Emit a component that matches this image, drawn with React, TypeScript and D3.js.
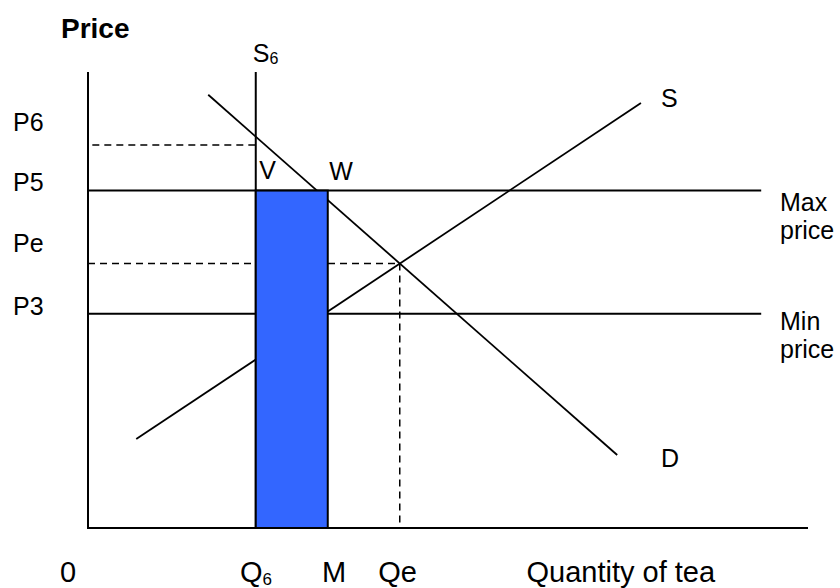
import React from 'react';
import * as d3 from 'd3';

// quantity / price in chart units (0-100 on both axes)
const demand: [number, number][] = [
  [16.7, 95],
  [73.5, 16],
];
const supply: [number, number][] = [
  [6.7, 19.5],
  [76.8, 93.2],
];

const q6 = 23.3;
const qM = 33.3;
const qe = 43.3;
const p6 = 84;
const p5 = 74;
const pe = 58;
const p3 = 47;
const priceLineEnd = 93.5;

const priceTicks = [
  { label: 'P6', value: p6, dy: -14 },
  { label: 'P5', value: p5, dy: 0 },
  { label: 'Pe', value: pe, dy: -12 },
  { label: 'P3', value: p3, dy: 1 },
];

const quantityTicks = [
  { label: '0', sub: '', value: -3.9 },
  { label: 'Q', sub: '6', value: q6 - 2.2 },
  { label: 'M', sub: '', value: qM - 0.8 },
  { label: 'Qe', sub: '', value: qe - 3 },
  { label: 'Quantity of tea', sub: '', value: 60.9 },
];

const width = 840;
const height = 588;

const App: React.FC = () => {
  const svgRef = React.useRef<SVGSVGElement>(null);

  React.useEffect(() => {
    const x = d3.scaleLinear().domain([0, 100]).range([88, 808]);
    const y = d3.scaleLinear().domain([0, 100]).range([528, 72]);

    const svgEl = d3.select(svgRef.current);
    svgEl.selectAll('*').remove();
    const svg = svgEl
      .attr('font-family', 'Liberation Sans, Arial, sans-serif')
      .style('background-color', '#fff');

    const line = d3
      .line<[number, number]>()
      .x((d) => x(d[0]))
      .y((d) => y(d[1]));

    // dashed guides
    const dash = '7,5';
    const guides = [
      [0.6, p6, q6, p6],
      [0, pe, qe, pe],
      [qe, pe, qe, 0],
    ];
    guides.forEach((g) => {
      svg
        .append('line')
        .attr('x1', x(g[0]))
        .attr('y1', y(g[1]))
        .attr('x2', x(g[2]))
        .attr('y2', y(g[3]))
        .attr('stroke', '#000')
        .attr('stroke-width', 1.5)
        .attr('stroke-dasharray', dash);
    });

    // max / min price lines
    [p5, p3].forEach((p) => {
      svg
        .append('line')
        .attr('x1', x(0))
        .attr('x2', x(priceLineEnd))
        .attr('y1', y(p))
        .attr('y2', y(p))
        .attr('stroke', '#000')
        .attr('stroke-width', 2);
    });

    // supply and demand
    [supply, demand].forEach((d) => {
      svg
        .append('path')
        .attr('d', line(d))
        .attr('fill', 'none')
        .attr('stroke', '#000')
        .attr('stroke-width', 1.8);
    });

    // S6 vertical supply
    svg
      .append('line')
      .attr('x1', x(q6))
      .attr('x2', x(q6))
      .attr('y1', y(100))
      .attr('y2', y(0))
      .attr('stroke', '#000')
      .attr('stroke-width', 2);

    // shaded area between Q6 and M
    svg
      .append('rect')
      .attr('x', x(q6))
      .attr('y', y(p5))
      .attr('width', x(qM) - x(q6))
      .attr('height', y(0) - y(p5))
      .attr('fill', '#3366ff')
      .attr('stroke', '#000')
      .attr('stroke-width', 2);

    // axes
    svg
      .append('path')
      .attr('d', `M${x(0)},${y(100)}V${y(0)}H${x(100)}`)
      .attr('fill', 'none')
      .attr('stroke', '#000')
      .attr('stroke-width', 2);

    // price labels
    svg
      .selectAll('.ptick')
      .data(priceTicks)
      .enter()
      .append('text')
      .attr('x', 13)
      .attr('y', (d) => y(d.value) + d.dy)
      .attr('font-size', 25)
      .text((d) => d.label);

    // quantity labels
    const qt = svg
      .selectAll('.qtick')
      .data(quantityTicks)
      .enter()
      .append('text')
      .attr('x', (d) => x(d.value))
      .attr('y', 582)
      .attr('font-size', 29)
      .text((d) => d.label);
    qt.filter((d) => d.sub !== '')
      .append('tspan')
      .attr('font-size', 17)
      .attr('dy', 3)
      .text((d) => d.sub);

    svg
      .append('text')
      .attr('x', 61)
      .attr('y', 38)
      .attr('font-size', 28)
      .attr('font-weight', 'bold')
      .text('Price');

    const s6 = svg
      .append('text')
      .attr('x', x(q6) - 3)
      .attr('y', 62)
      .attr('font-size', 25)
      .text('S');
    s6.append('tspan').attr('font-size', 16).attr('dy', 2).text('6');

    const labels = [
      { t: 'V', q: q6 + 0.5, yy: 179 },
      { t: 'W', q: qM + 0.2, yy: 180 },
      { t: 'S', q: 79.6, yy: 107 },
      { t: 'D', q: 79.6, yy: 467 },
    ];
    labels.forEach((l) => {
      svg
        .append('text')
        .attr('x', x(l.q))
        .attr('y', l.yy)
        .attr('font-size', 25)
        .text(l.t);
    });

    const side = [
      { lines: ['Max', 'price'], yy: 211 },
      { lines: ['Min', 'price'], yy: 330 },
    ];
    side.forEach((s) => {
      s.lines.forEach((ln, i) => {
        svg
          .append('text')
          .attr('x', 780)
          .attr('y', s.yy + i * 28)
          .attr('font-size', 25)
          .text(ln);
      });
    });
  }, []);

  return (
    <div style={{ position: 'absolute', left: 0, top: 0 }}>
      <svg ref={svgRef} width={width} height={height} style={{ display: 'block' }} />
    </div>
  );
};

export default App;
